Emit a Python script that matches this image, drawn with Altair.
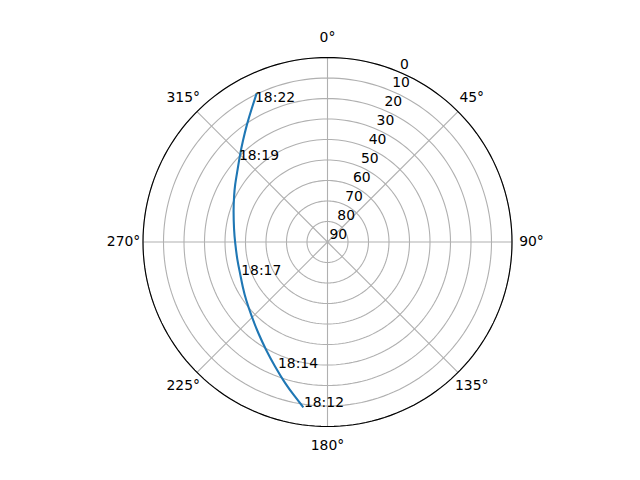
import altair as alt
import pandas as pd

# Satellite track: azimuth (deg, clockwise from north) and elevation (deg)
track_az = [188.3, 191.9, 196.7, 202.8, 209.7, 217.2, 225.4, 234.6, 242.2, 250.3, 258.7,
            269.8, 277.3, 288.8, 296.7, 301.6, 307.9, 314.8, 319.8, 325.4, 330.5, 334.5]
track_el = [8.5, 12.9, 18.0, 24.0, 29.4, 34.1, 38.1, 41.2, 43.2, 44.7, 45.1,
            44.9, 44.0, 41.5, 39.0, 37.0, 34.2, 29.8, 25.9, 20.6, 15.0, 9.7]

# Time annotations
label_time = ["18:12", "18:14", "18:17", "18:19", "18:22"]
label_az = [187.8, 201.1, 248.8, 313.1, 333.0]
label_el = [8.9, 24.3, 45.4, 31.5, 13.2]

# Axis ticks
theta_ticks = [0, 45, 90, 135, 180, 225, 270, 315]
r_ticks = [0, 10, 20, 30, 40, 50, 60, 70, 80, 90]
r_label_angle = 22.5
theta_label_r = -9.5  # label ring just outside the horizon (in elevation units)

FONT = "DejaVu Sans"
FS = 13.9

track_df = pd.DataFrame({"i": list(range(len(track_az))), "az": track_az, "el": track_el})
label_df = pd.DataFrame({"txt": label_time, "az": label_az, "el": label_el})
ring_df = pd.DataFrame([{"el": e, "az": t} for e in r_ticks if e < 90 for t in range(0, 362, 2)])
spine_df = pd.DataFrame([{"el": 0, "az": t} for t in range(0, 362, 2)])
spoke_df = pd.DataFrame({"az": theta_ticks})
tlab_df = pd.DataFrame({"az": theta_ticks, "el": [theta_label_r] * len(theta_ticks),
                        "txt": [f"{a}°" for a in theta_ticks]})
rlab_df = pd.DataFrame({"el": r_ticks, "az": [r_label_angle] * len(r_ticks),
                        "txt": [str(v) for v in r_ticks]})

CX = "(90 - datum.el) * sin(datum.az * PI / 180)"
CY = "(90 - datum.el) * cos(datum.az * PI / 180)"

xs = alt.Scale(domain=[-90, 90], nice=False, zero=False)
ys = alt.Scale(domain=[-90, 90], nice=False, zero=False)
X = alt.X("px:Q", scale=xs, axis=None)
Y = alt.Y("py:Q", scale=ys, axis=None)

rings = alt.Chart(ring_df).transform_calculate(px=CX, py=CY).mark_line(
    color="#b0b0b0", strokeWidth=1.1
).encode(x=X, y=Y, detail="el:N", order="az:Q")

spokes = alt.Chart(spoke_df).transform_calculate(
    px="0", py="0", px2="90 * sin(datum.az * PI / 180)", py2="90 * cos(datum.az * PI / 180)"
).mark_rule(color="#b0b0b0", strokeWidth=1.1).encode(
    x=X, y=Y, x2=alt.X2("px2:Q"), y2=alt.Y2("py2:Q")
)

spine = alt.Chart(spine_df).transform_calculate(px=CX, py=CY).mark_line(
    color="black", strokeWidth=1.1
).encode(x=X, y=Y, order="az:Q")

track = alt.Chart(track_df).transform_calculate(px=CX, py=CY).mark_line(
    color="#1f77b4", strokeWidth=2.1, interpolate="basis"
).encode(x=X, y=Y, order="i:Q")

labels = alt.Chart(label_df).transform_calculate(px=CX, py=CY).mark_text(
    align="left", baseline="alphabetic", dx=-1, font=FONT, fontSize=FS, color="black"
).encode(x=X, y=Y, text="txt:N")

tlabels = alt.Chart(tlab_df).transform_calculate(px=CX, py=CY).mark_text(
    align="center", baseline="middle", font=FONT, fontSize=FS, color="black"
).encode(x=X, y=Y, text="txt:N")

rlabels = alt.Chart(rlab_df).transform_calculate(px=CX, py=CY).mark_text(
    align="left", baseline="bottom", dx=2, font=FONT, fontSize=FS, color="black"
).encode(x=X, y=Y, text="txt:N")

chart = alt.layer(rings, spokes, spine, track, rlabels, tlabels, labels).properties(
    width=369, height=369,
    autosize=alt.AutoSizeParams(type="none"),
    padding={"left": 135, "top": 49.5, "right": 110, "bottom": 40},
    background="white",
).configure_view(stroke=None)

chart.save("out.html", embed_options={"renderer": "svg", "actions": False})
